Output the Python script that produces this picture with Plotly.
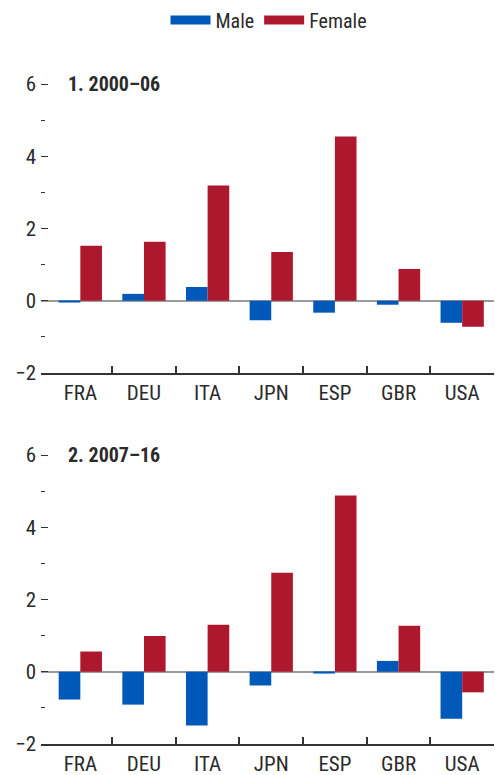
import plotly.graph_objects as go

countries = ["FRA", "DEU", "ITA", "JPN", "ESP", "GBR", "USA"]
male_2000_06 = [-0.05, 0.19, 0.38, -0.54, -0.33, -0.11, -0.61]
female_2000_06 = [1.52, 1.63, 3.19, 1.35, 4.55, 0.88, -0.72]
male_2007_16 = [-0.77, -0.91, -1.49, -0.38, -0.05, 0.30, -1.30]
female_2007_16 = [0.56, 0.99, 1.30, 2.74, 4.88, 1.27, -0.57]
panel_titles = ["1. 2000–06", "2. 2007–16"]
y_ticks = [-2, 0, 2, 4, 6]
y_minor = [-1, 1, 3, 5]

BLUE = "#0058B9"
RED = "#AD182E"
FONT = "Liberation Sans Narrow, Roboto Condensed, Arial Narrow, sans-serif"
TXT = "#2b2b2b"

W, H = 495, 775
fig = go.Figure()
idx = list(range(len(countries)))

panels = [(male_2000_06, female_2000_06), (male_2007_16, female_2007_16)]
axes = [("x", "y"), ("x2", "y2")]
for (m, f), (xa, ya) in zip(panels, axes):
    fig.add_trace(go.Bar(x=idx, y=m, marker_color=BLUE, marker_line_width=0,
                         showlegend=False, xaxis=xa, yaxis=ya, name="Male"))
    fig.add_trace(go.Bar(x=idx, y=f, marker_color=RED, marker_line_width=0,
                         showlegend=False, xaxis=xa, yaxis=ya, name="Female"))

# legend entries
fig.add_trace(go.Scatter(x=[None], y=[None], mode="lines", name="Male",
                         line=dict(color=BLUE, width=9), xaxis="x", yaxis="y"))
fig.add_trace(go.Scatter(x=[None], y=[None], mode="lines", name="Female",
                         line=dict(color=RED, width=9), xaxis="x", yaxis="y"))

x_left, x_right = 41, 494
doms_px = [(84, 373), (455, 744)]
YMAX = 6.07

def ydom(top, bot):
    ppu = (bot - top) / 8.0
    top2 = top - (YMAX - 6) * ppu
    return [1 - bot / H, 1 - top2 / H]

xdom = [x_left / W, x_right / W]

xcommon = dict(
    domain=xdom, range=[-0.618, 6.5], automargin=False,
    tickmode="array", tickvals=idx, ticktext=countries, ticks="",
    showline=True, linecolor="#333333", linewidth=2,
    showgrid=False, zeroline=False,
    minor=dict(tickmode="array", tickvals=[i + 0.5 for i in idx[:-1]],
               ticks="inside", ticklen=7, tickcolor="#333333", tickwidth=1.5,
               showgrid=False),
    tickfont=dict(family=FONT, size=21, color=TXT),
)
ycommon = dict(
    range=[-2, YMAX], tickmode="array", tickvals=y_ticks, automargin=False,
    ticks="inside", ticklen=7, tickcolor="#333333", tickwidth=1.2,
    ticklabelstandoff=4,
    showline=False, showgrid=False,
    zeroline=True, zerolinecolor="#9a9a9a", zerolinewidth=2,
    minor=dict(tickmode="array", tickvals=y_minor, ticks="inside", ticklen=4,
               tickcolor="#333333", tickwidth=1.2, showgrid=False),
    tickfont=dict(family=FONT, size=21, color=TXT),
)

fig.update_layout(
    width=W, height=H,
    margin=dict(l=0, r=0, t=0, b=0, autoexpand=False),
    plot_bgcolor="white", paper_bgcolor="white",
    barmode="group", bargap=0.32, bargroupgap=0,
    font=dict(family=FONT, size=21, color=TXT),
    xaxis=dict(anchor="y", **xcommon),
    yaxis=dict(anchor="x", domain=ydom(*doms_px[0]), **ycommon),
    xaxis2=dict(anchor="y2", **xcommon),
    yaxis2=dict(anchor="x2", domain=ydom(*doms_px[1]), **ycommon),
    legend=dict(orientation="h", x=269 / W, xanchor="center", y=1 - 20 / H, yanchor="middle",
                font=dict(family=FONT, size=20, color=TXT),
                itemwidth=40, tracegroupgap=0, bgcolor="rgba(0,0,0,0)"),
)

for t, ya in zip(panel_titles, ["y", "y2"]):
    fig.add_annotation(text="<b>" + t + "</b>", x=66 / W, xref="paper", xanchor="left",
                       y=6, yref=ya, yanchor="middle", showarrow=False,
                       font=dict(family=FONT, size=20, color=TXT))

fig.write_html("out.html", config={"displayModeBar": False},
               post_script="document.body.style.margin='0';document.body.style.overflow='hidden';")
